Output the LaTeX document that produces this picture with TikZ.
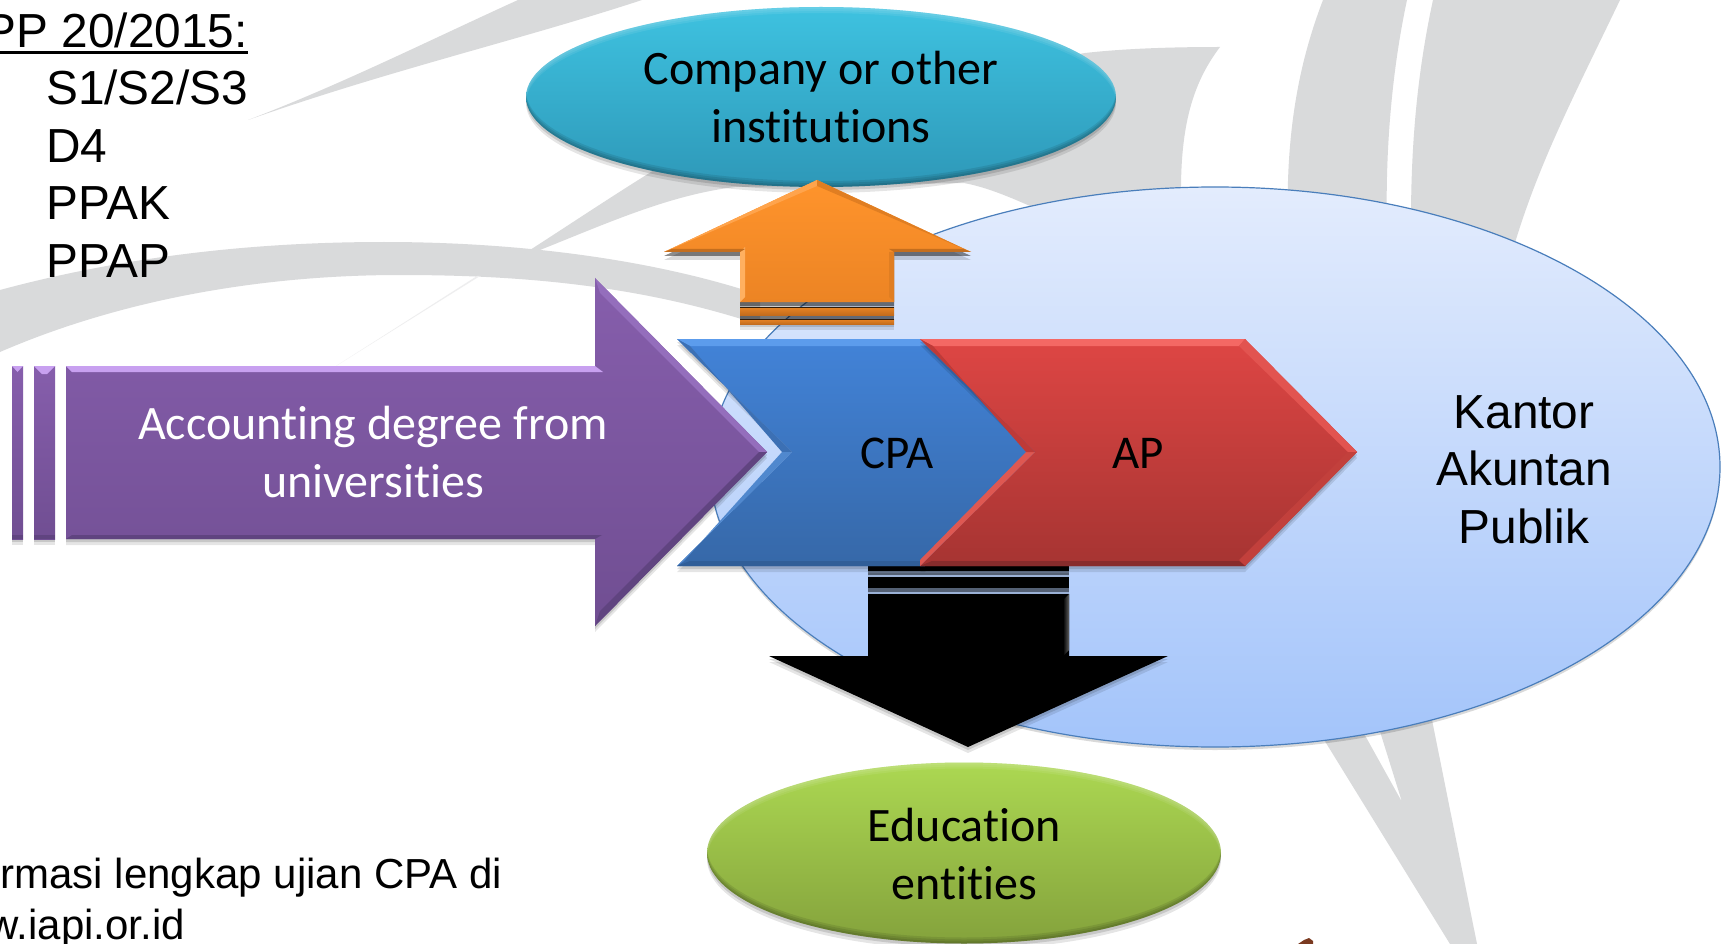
\documentclass[tikz,border=0pt]{standalone}
\usepackage{fontspec}
\setmainfont{Liberation Sans}
\newfontfamily\calfont[Ligatures=CommonOff]{Carlito}
\usetikzlibrary{shadows,shapes.geometric}
\definecolor{wm}{HTML}{D9DADB}
\definecolor{kaptop}{RGB}{227,236,253}
\definecolor{kapbot}{RGB}{163,196,250}
\definecolor{kapline}{RGB}{74,126,187}
\definecolor{tealtop}{RGB}{62,194,224}
\definecolor{tealbot}{RGB}{46,152,184}
\definecolor{gtop}{RGB}{172,216,82}
\definecolor{gbot}{RGB}{132,162,60}
\definecolor{otop}{RGB}{255,148,44}
\definecolor{obot}{RGB}{236,132,36}
\definecolor{ostr}{RGB}{232,132,36}
\definecolor{ostrb}{RGB}{196,108,28}
\definecolor{olight}{RGB}{255,176,96}
\definecolor{omid}{RGB}{224,126,34}
\definecolor{odark}{RGB}{196,110,30}
\definecolor{ohi}{RGB}{255,164,76}
\definecolor{ptop}{RGB}{134,94,172}
\definecolor{pbot}{RGB}{112,78,146}
\definecolor{phi}{RGB}{200,160,240}
\definecolor{pmid}{RGB}{148,110,188}
\definecolor{pdark}{RGB}{96,68,128}
\definecolor{btop}{RGB}{66,131,216}
\definecolor{bbot}{RGB}{54,104,168}
\definecolor{bhi}{RGB}{92,156,236}
\definecolor{bdark}{RGB}{48,94,152}
\definecolor{bmid}{RGB}{60,112,180}
\definecolor{blite}{RGB}{80,136,206}
\definecolor{rtop}{RGB}{222,70,68}
\definecolor{rbot}{RGB}{166,52,50}
\definecolor{rhi}{RGB}{244,104,100}
\definecolor{rlite}{RGB}{226,84,80}
\definecolor{rmid}{RGB}{194,64,60}
\definecolor{rdark}{RGB}{136,44,44}
\definecolor{rnot}{RGB}{222,88,82}
\definecolor{rnod}{RGB}{190,58,56}
\definecolor{brownmark}{RGB}{122,58,32}
\newcommand\arialsz{\fontsize{47.8}{57.3}\selectfont}
\newcommand\calsz{\calfont\fontsize{48}{58}\selectfont}
\newcommand\calsm{\calfont\fontsize{47}{57}\selectfont}
\newcommand\ulbox[1]{\setbox0\hbox{#1}\rlap{\rule[-6pt]{\wd0}{2.6pt}}\box0}
% crescent highlights on an ellipse: x,y,rx,ry,light,dark
\newcommand\bevelell[6]{%
 \begin{scope}
  \clip (#1,#2) ellipse ({#3} and {#4});
  \foreach \d in {2,4,6}{
   \fill[#5,opacity=.08,even odd rule] (#1-#3-10,#2-#4-10) rectangle (#1+#3+10,#2+#4+20) (#1,#2+\d) ellipse ({#3} and {#4});
   \fill[#6,opacity=.09,even odd rule] (#1-#3-10,#2-#4-20) rectangle (#1+#3+10,#2+#4+10) (#1,#2-\d) ellipse ({#3} and {#4});
  }
 \end{scope}}
\tikzset{
 softshadow/.style={drop shadow={shadow xshift=0pt,shadow yshift=-3pt,opacity=.13,fill=black},
   drop shadow={shadow xshift=0pt,shadow yshift=-6pt,opacity=.10,fill=black}},
 gapshadow/.style={drop shadow={shadow xshift=0pt,shadow yshift=-4pt,opacity=.45,fill=black},
   drop shadow={shadow xshift=0pt,shadow yshift=-8pt,opacity=.15,fill=black}},
 arialtext/.style={font=\arialsz,inner sep=0pt,text=black},
 caltext/.style={font=\calsz,inner sep=0pt,align=center},
 blob/.style={ellipse,inner sep=0pt,minimum width=#1},
 watermark/.style={fill=wm,draw=none}
}
\begin{document}
\begin{tikzpicture}[x=1pt,y=-1pt]
\useasboundingbox (0,0) rectangle (1725,944);
\clip (0,0) rectangle (1725,944);
\fill[white] (0,0) rectangle (1725,944);
% ---------- watermark ----------
\fill[watermark] (0,290) .. controls (130,255) and (260,242) .. (384,242) .. controls (500,242) and (640,255) .. (760,295)
  -- (760,325) .. controls (640,285) and (520,275) .. (400,275) .. controls (260,275) and (120,300) .. (0,352) -- cycle;
\fill[watermark] (248,120) .. controls (340,85) and (430,40) .. (518,0) -- (642,0) .. controls (520,40) and (390,70) .. cycle;
\fill[watermark] (530,250) .. controls (600,205) and (680,150) .. (760,110) -- (1085,53) .. controls (1130,48) and (1180,47) .. (1220,47)
  .. controls (1195,80) and (1181,120) .. (1181,190) -- (1181,230) -- (1030,206) .. controls (1005,195) and (985,187) .. (964,183)
  -- (735,187) .. controls (670,195) and (610,222) .. (540,250) -- cycle;
\fill[wm!45!white] (336,366) -- (477,276) -- (480,276) -- cycle;
\fill[watermark] (1323,0) -- (1407,0) .. controls (1392,70) and (1385,150) .. (1387,230) -- (1288,230) .. controls (1285,130) and (1300,60) .. cycle;
\fill[watermark] (1433,0) -- (1620,0) .. controls (1572,100) and (1535,170) .. (1510,260) -- (1411,220) .. controls (1411,130) and (1420,60) .. cycle;
\fill[watermark] (1318,730) -- (1362,730) -- (1402,802) -- (1378,725) -- (1431,715) -- (1477,944) -- (1450,944) -- cycle;
\fill[brownmark] (1298,944) -- (1304,940) -- (1309,938) -- (1313,941) -- (1313,944) -- cycle;
% ---------- large ellipse ----------
\node[blob=1010pt,minimum height=560pt,top color=kaptop,bottom color=kapbot,draw=kapline,line width=1.2pt,
  drop shadow={shadow xshift=0pt,shadow yshift=-3pt,opacity=.15,fill=black}] (kap) at (1215,467) {};
\node[arialtext,align=center] (kaptext) at (1524,474.5) {\strut Kantor\\\strut Akuntan\\\strut Publik};
% ---------- teal ellipse ----------
\node[blob=590pt,minimum height=180pt,top color=tealtop,bottom color=tealbot,softshadow] (company) at (821,97) {};
\bevelell{821}{97}{295}{90}{white}{black}
\node[caltext] (companytext) at (821,102) {\strut Company or other\\\strut institutions};
% ---------- orange up arrow ----------
\path[gapshadow,top color=otop,bottom color=obot]
  (817,180) -- (971,252) -- (894,252) -- (894,302) -- (740,302) -- (740,252) -- (664,252) -- cycle;
\path[top color=ostr,bottom color=ostrb,gapshadow] (740,307) rectangle (894,315);
\path[top color=ostr,bottom color=ostrb,softshadow] (740,319) rectangle (894,324);
\fill[black!75!ostrb] (740,306.5) rectangle (894,307.5);
\fill[black!75!ostrb] (740,318.5) rectangle (894,319.5);
\fill[olight] (740,252) -- (745,247) -- (745,297) -- (740,302) -- cycle;
\fill[omid] (894,252) -- (889,252) -- (889,297) -- (894,302) -- cycle;
\fill[odark] (664,252) -- (740,252) -- (745,249) -- (671,249) -- cycle;
\fill[odark] (971,252) -- (894,252) -- (889,249) -- (964,249) -- cycle;
\fill[ohi] (817,180) -- (817,186) -- (671,249) -- (664,252) -- cycle;
\fill[omid] (817,180) -- (817,186) -- (964,249) -- (971,252) -- cycle;
% ---------- black down arrow ----------
\fill[black,gapshadow] (868,565) rectangle (1069,571);
\fill[black,gapshadow] (868,577) rectangle (1069,588);
\fill[black,softshadow] (868,594) -- (1069,594) -- (1069,656) -- (1168,656) -- (968,747) -- (769,656) -- (868,656) -- cycle;
\shade[left color=black,right color=black!62] (1063,600) -- (1069,594) -- (1069,650) -- (1063,656) -- cycle;
% ---------- green ellipse ----------
\node[blob=514pt,minimum height=181pt,top color=gtop,bottom color=gbot,softshadow] (edu) at (964,853) {};
\bevelell{964}{853}{257}{90.5}{white}{black}
\node[caltext] (edutext) at (964.5,858.5) {\strut Education\\\strut entities};
% ---------- purple arrow ----------
\path[softshadow,top color=ptop,bottom color=pbot] (12,366) rectangle (23,539);
\path[softshadow,top color=ptop,bottom color=pbot] (34,366) rectangle (55,539);
\fill[phi] (12,366) -- (23,366) -- (17.5,372) -- cycle;
\fill[phi] (34,366) -- (55,366) -- (47,374) -- (42,374) -- cycle;
\path[softshadow,top color=ptop,bottom color=pbot]
  (66,366) -- (595,366) -- (595,278) -- (767,452) -- (595,626) -- (595,539) -- (66,539) -- cycle;
\fill[phi] (66,366) -- (595,366) -- (603,372) -- (72,372) -- cycle;
\fill[pmid] (595,278) -- (767,452) -- (759,452) -- (600,293) -- cycle;
\fill[pdark] (595,626) -- (767,452) -- (759,452) -- (600,611) -- cycle;
\fill[pdark] (66,539) -- (595,539) -- (602,535) -- (72,535) -- cycle;
\fill[pdark] (12,539) rectangle (23,535);
\fill[pdark] (34,539) rectangle (55,535);
\node[caltext,text=white] (degreetext) at (373,457) {\strut Accounting degree from\\\strut universities};
% ---------- blue chevron ----------
\path[softshadow,top color=btop,bottom color=bbot]
  (677,339) -- (925,339) -- (1035,452) -- (925,566) -- (677,566) -- (792,452) -- cycle;
\fill[bhi] (677,339) -- (925,339) -- (935,346) -- (690,346) -- cycle;
\fill[bdark] (677,566) -- (925,566) -- (935,561) -- (690,561) -- cycle;
\fill[bmid] (677,339) -- (792,452) -- (782,452) -- (690,346) -- cycle;
\fill[blite] (677,566) -- (792,452) -- (782,452) -- (684,561) -- cycle;
\node[font=\calsm,inner sep=0pt,anchor=base] (cpa) at (897,468) {CPA};
% ---------- red chevron ----------
\path[softshadow,top color=rtop,bottom color=rbot]
  (920,339) -- (1245,339) -- (1357,452) -- (1245,566) -- (920,566) -- (1035,452) -- cycle;
\fill[rhi] (920,339) -- (1245,339) -- (1239,346) -- (933,346) -- cycle;
\fill[rlite] (1245,339) -- (1357,452) -- (1348,452) -- (1239,346) -- cycle;
\fill[rmid] (1245,566) -- (1357,452) -- (1348,452) -- (1239,560) -- cycle;
\fill[rdark] (920,566) -- (1245,566) -- (1239,561) -- (932,561) -- cycle;
\fill[rnot] (920,566) -- (1035,452) -- (1026,452) -- (920,560) -- cycle;
\fill[rnod] (920,339) -- (1035,452) -- (1026,452) -- (933,346) -- cycle;
\node[font=\calsm,inner sep=0pt,anchor=base] (ap) at (1138,468) {AP};
% ---------- texts on the left ----------
\node[arialtext,anchor=base east] (pp) at (248,48) {\ulbox{PP 20/2015:}};
\node[arialtext,anchor=base west] (s123) at (46,105) {S1/S2/S3};
\node[arialtext,anchor=base west] (d4) at (46,163) {D4};
\node[arialtext,anchor=base west] (ppak) at (46,220) {PPAK};
\node[arialtext,anchor=base west] (ppap) at (46,277) {PPAP};
\node[font=\fontsize{42}{51}\selectfont,inner sep=0pt,anchor=base east] (info1) at (502,888) {rmasi lengkap ujian CPA di};
\node[font=\fontsize{42}{51}\selectfont,inner sep=0pt,anchor=base east] (info2) at (185,939) {ww.iapi.or.id};
\end{tikzpicture}
\end{document}
